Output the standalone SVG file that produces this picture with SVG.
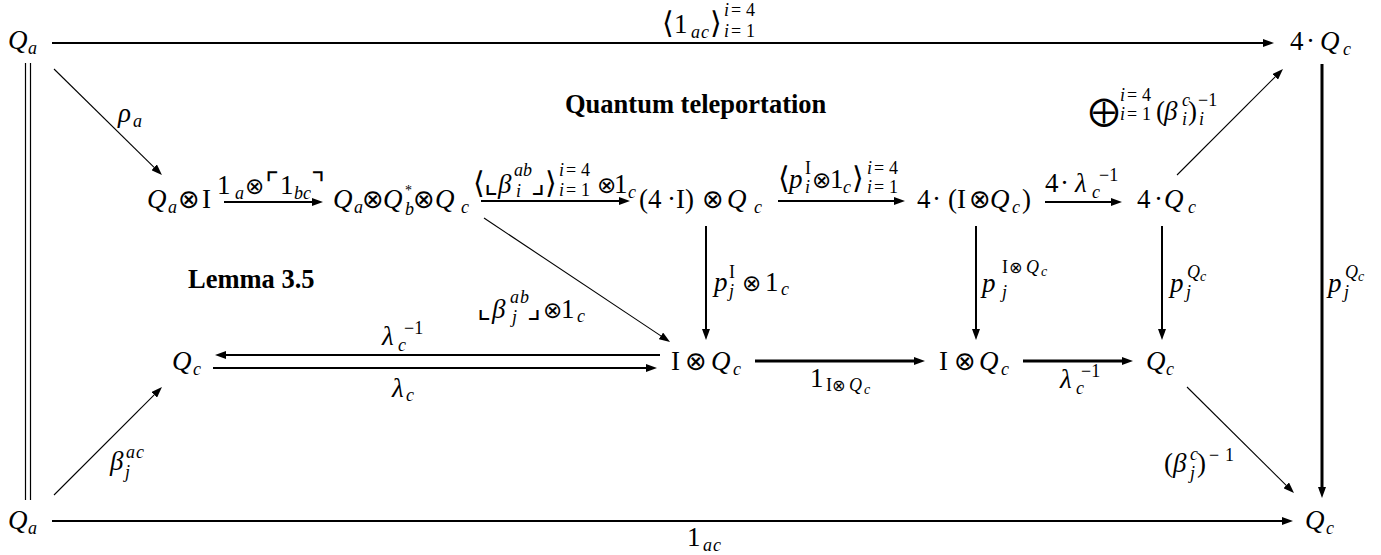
<svg xmlns="http://www.w3.org/2000/svg" width="1381" height="555" viewBox="0 0 1381 555">
<style>
text { font-family: "Liberation Serif", "DejaVu Serif", serif; font-size: 27px; fill: #000; }
.i { font-style: italic; }
.s { font-size: 18px; }
.ss { font-size: 14px; }
.o { font-family: "DejaVu Sans", sans-serif; font-size: 26px; }
.ol { font-family: "DejaVu Sans", sans-serif; font-size: 23px; }
.os { font-family: "DejaVu Sans", sans-serif; font-size: 16px; }
.d { font-family: "DejaVu Sans", sans-serif; font-size: 30px; }
.k { font-family: "DejaVu Sans", sans-serif; font-size: 30px; font-weight: 200; }
.bp { font-family: "DejaVu Sans", sans-serif; font-size: 30px; font-weight: 200; }
.t { font-weight: bold; font-size: 26.5px; }
.ln { fill: none; stroke: #000; }
.w1 { stroke-width: 1.1; marker-end: url(#ah); }
.w2 { stroke-width: 2; marker-end: url(#ah); }
.w3 { stroke-width: 3; marker-end: url(#ah); }
</style>
<defs>
<marker id="ah" markerWidth="11" markerHeight="8" refX="0" refY="4" orient="auto" markerUnits="userSpaceOnUse">
<path d="M0,0 L11,4 L0,8 Z" fill="#000"/>
</marker>
</defs>

<g id="connectors">
<path class="ln w2" d="M52,43 H1263"/>
<path class="ln w2" d="M52,521 H1282"/>
<path class="ln" stroke-width="1.2" d="M25.5,63 V500 M30.5,63 V500"/>
<path class="ln w3" d="M1322,64 V487"/>
<path class="ln w1" d="M54,69 L154.1,167.3"/>
<path class="ln w2" d="M224,202 H312"/>
<path class="ln w2" d="M481,201 H619"/>
<path class="ln w2" d="M778,201 H894"/>
<path class="ln w2" d="M1045,202 H1111"/>
<path class="ln w1" d="M1177,175 L1275.2,76.8"/>
<path class="ln w2" d="M706,226 V329"/>
<path class="ln w2" d="M976,226 V329"/>
<path class="ln w2" d="M1162,226 V329"/>
<path class="ln w1" d="M484,218 L660.9,335.9"/>
<path class="ln w2" d="M660,355 H226"/>
<path class="ln w2" d="M213,368 H646"/>
<path class="ln w3" d="M755,361 H914"/>
<path class="ln w3" d="M1023,361 H1122"/>
<path class="ln w1" d="M54,495 L154.2,394.8"/>
<path class="ln w1" d="M1187,387 L1286.2,485.3"/>

<g id="edge-labels">
<text y="33"><tspan x="662" class="d">⟨</tspan><tspan x="674">1</tspan><tspan x="691" y="38" class="i s">a</tspan><tspan x="701" y="38" class="i s">c</tspan><tspan x="710" y="33" class="d">⟩</tspan><tspan x="724" y="16" class="i s">i</tspan><tspan x="731" y="16" class="s">=</tspan><tspan x="746" y="16" class="s">4</tspan><tspan x="724" y="37" class="i s">i</tspan><tspan x="731" y="37" class="s">=</tspan><tspan x="746" y="37" class="s">1</tspan></text>

<text y="122"><tspan x="118" class="i">ρ</tspan><tspan x="133" y="127" class="i s">a</tspan></text>

<text y="194"><tspan x="217">1</tspan><tspan x="235" y="199" class="i s">a</tspan><tspan x="245" y="194" class="ol">⊗</tspan><tspan x="265" class="k">⌜</tspan><tspan x="280">1</tspan><tspan x="294" y="199" class="i s">b</tspan><tspan x="303" y="199" class="i s">c</tspan><tspan x="311" y="194" class="k">⌝</tspan></text>

<text y="193"><tspan x="473" class="d">⟨</tspan><tspan x="484" class="k">⌞</tspan><tspan x="498" class="i">β</tspan><tspan x="514" y="176" class="i s">a</tspan><tspan x="523" y="176" class="i s">b</tspan><tspan x="516" y="197" class="i s">i</tspan><tspan x="531" y="193" class="k">⌟</tspan><tspan x="545" class="d">⟩</tspan><tspan x="559" y="176" class="i s">i</tspan><tspan x="566" y="176" class="s">=</tspan><tspan x="581" y="176" class="s">4</tspan><tspan x="559" y="196" class="i s">i</tspan><tspan x="566" y="196" class="s">=</tspan><tspan x="581" y="196" class="s">1</tspan><tspan x="597" y="193" class="ol">⊗</tspan><tspan x="614">1</tspan><tspan x="628" y="198" class="i s">c</tspan></text>

<text y="188"><tspan x="778" class="d">⟨</tspan><tspan x="789" class="i">p</tspan><tspan x="805" y="174" class="s">I</tspan><tspan x="805" y="193" class="i s">i</tspan><tspan x="812" y="188" class="ol">⊗</tspan><tspan x="830">1</tspan><tspan x="843" y="193" class="i s">c</tspan><tspan x="852" y="188" class="d">⟩</tspan><tspan x="867" y="174" class="i s">i</tspan><tspan x="874" y="174" class="s">=</tspan><tspan x="889" y="174" class="s">4</tspan><tspan x="867" y="193" class="i s">i</tspan><tspan x="874" y="193" class="s">=</tspan><tspan x="889" y="193" class="s">1</tspan></text>

<text y="192"><tspan x="1045">4</tspan><tspan x="1060">·</tspan><tspan x="1075" class="i">λ</tspan><tspan x="1092" y="198" class="i s">c</tspan><tspan x="1099" y="181" class="s">−1</tspan></text>

<text y="120"><tspan x="1089" y="121" class="bp">⨁</tspan><tspan x="1120" y="101" class="i s">i</tspan><tspan x="1127" y="101" class="s">=</tspan><tspan x="1142" y="101" class="s">4</tspan><tspan x="1120" y="120" class="i s">i</tspan><tspan x="1127" y="120" class="s">=</tspan><tspan x="1142" y="120" class="s">1</tspan><tspan x="1156" y="120">(</tspan><tspan x="1164" class="i">β</tspan><tspan x="1182" y="106" class="i s">c</tspan><tspan x="1182" y="125" class="i s">i</tspan><tspan x="1188" y="120">)</tspan><tspan x="1198" y="106" class="s">−1</tspan><tspan x="1199" y="125" class="i s">i</tspan></text>

<text y="318"><tspan x="477" class="k">⌞</tspan><tspan x="492" class="i">β</tspan><tspan x="510" y="303" class="i s">a</tspan><tspan x="520" y="303" class="i s">b</tspan><tspan x="512" y="323" class="i s">j</tspan><tspan x="527" y="318" class="k">⌟</tspan><tspan x="543" class="ol">⊗</tspan><tspan x="561">1</tspan><tspan x="577" y="322" class="i s">c</tspan></text>

<text y="291"><tspan x="714" class="i">p</tspan><tspan x="729" y="278" class="s">I</tspan><tspan x="729" y="297" class="i s">j</tspan><tspan x="742" y="291" class="ol">⊗</tspan><tspan x="765">1</tspan><tspan x="781" y="295" class="i s">c</tspan></text>

<text y="292"><tspan x="982" class="i">p</tspan><tspan x="1002" y="273" class="s">I</tspan><tspan x="1009" y="273" class="os">⊗</tspan><tspan x="1026" y="273" class="i s">Q</tspan><tspan x="1041" y="276" class="i ss">c</tspan><tspan x="1002" y="298" class="i s">j</tspan></text>

<text y="292"><tspan x="1170" class="i">p</tspan><tspan x="1187" y="278" class="i s">Q</tspan><tspan x="1200" y="281" class="i ss">c</tspan><tspan x="1186" y="298" class="i s">j</tspan></text>

<text y="292"><tspan x="1328" class="i">p</tspan><tspan x="1345" y="278" class="i s">Q</tspan><tspan x="1358" y="281" class="i ss">c</tspan><tspan x="1344" y="298" class="i s">j</tspan></text>

<text y="345"><tspan x="382" class="i">λ</tspan><tspan x="398" y="351" class="i s">c</tspan><tspan x="404" y="334" class="s">−1</tspan></text>

<text y="397"><tspan x="392" class="i">λ</tspan><tspan x="406" y="401" class="i s">c</tspan></text>

<text y="387"><tspan x="810">1</tspan><tspan x="826" y="391" class="s">I</tspan><tspan x="832" y="391" class="os">⊗</tspan><tspan x="849" y="391" class="i s">Q</tspan><tspan x="864" y="394" class="i ss">c</tspan></text>

<text y="388"><tspan x="1060" class="i">λ</tspan><tspan x="1076" y="394" class="i s">c</tspan><tspan x="1081" y="377" class="s">−1</tspan></text>

<text y="470"><tspan x="110" class="i">β</tspan><tspan x="126" y="458" class="i s">a</tspan><tspan x="136" y="458" class="i s">c</tspan><tspan x="125" y="478" class="i s">j</tspan></text>

<text y="472"><tspan x="1164">(</tspan><tspan x="1173" class="i">β</tspan><tspan x="1190" y="460" class="i s">c</tspan><tspan x="1190" y="479" class="i s">j</tspan><tspan x="1197" y="472">)</tspan><tspan x="1209" y="461" class="s">−</tspan><tspan x="1225" y="461" class="s">1</tspan></text>

<text y="546"><tspan x="687">1</tspan><tspan x="703" y="551" class="i s">a</tspan><tspan x="713" y="551" class="i s">c</tspan></text>
</g>
</g>

<g id="n-qa-top"><text y="49"><tspan x="8" class="i">Q</tspan><tspan x="28" y="54" class="i s">a</tspan></text></g>
<g id="n-4qc-top"><text y="50"><tspan x="1290">4</tspan><tspan x="1306">·</tspan><tspan x="1320" class="i">Q</tspan><tspan x="1343" y="55" class="i s">c</tspan></text></g>
<g id="n-qa-i"><text y="208"><tspan x="147" class="i">Q</tspan><tspan x="168" y="213" class="i s">a</tspan><tspan x="178" y="208" class="o">⊗</tspan><tspan x="202">I</tspan></text></g>
<g id="n-qa-qb-qc"><text y="208"><tspan x="333" class="i">Q</tspan><tspan x="354" y="213" class="i s">a</tspan><tspan x="362" y="208" class="o">⊗</tspan><tspan x="383" class="i">Q</tspan><tspan x="405" y="195" class="ss">*</tspan><tspan x="405" y="215" class="i s">b</tspan><tspan x="413" y="208" class="o">⊗</tspan><tspan x="435" class="i">Q</tspan><tspan x="461" y="213" class="i s">c</tspan></text></g>
<g id="n-4i-qc"><text y="208"><tspan x="639">(4</tspan><tspan x="667">·</tspan><tspan x="676">I)</tspan><tspan x="702" class="o">⊗</tspan><tspan x="727" class="i">Q</tspan><tspan x="754" y="213" class="i s">c</tspan></text></g>
<g id="n-4-iqc"><text y="208"><tspan x="917">4</tspan><tspan x="932">·</tspan><tspan x="948">(I</tspan><tspan x="969" class="o">⊗</tspan><tspan x="990" class="i">Q</tspan><tspan x="1012" y="213" class="i s">c</tspan><tspan x="1022" y="208">)</tspan></text></g>
<g id="n-4qc-mid"><text y="208"><tspan x="1137">4</tspan><tspan x="1154">·</tspan><tspan x="1164" class="i">Q</tspan><tspan x="1188" y="213" class="i s">c</tspan></text></g>
<g id="n-qc-left"><text y="370"><tspan x="172" class="i">Q</tspan><tspan x="193" y="375" class="i s">c</tspan></text></g>
<g id="n-iqc-1"><text y="370"><tspan x="671">I</tspan><tspan x="685" class="o">⊗</tspan><tspan x="711" class="i">Q</tspan><tspan x="733" y="375" class="i s">c</tspan></text></g>
<g id="n-iqc-2"><text y="370"><tspan x="939">I</tspan><tspan x="954" class="o">⊗</tspan><tspan x="979" class="i">Q</tspan><tspan x="1001" y="375" class="i s">c</tspan></text></g>
<g id="n-qc-mid"><text y="370"><tspan x="1146" class="i">Q</tspan><tspan x="1166" y="375" class="i s">c</tspan></text></g>
<g id="n-qa-bot"><text y="529"><tspan x="8" class="i">Q</tspan><tspan x="28" y="534" class="i s">a</tspan></text></g>
<g id="n-qc-bot"><text y="529"><tspan x="1305" class="i">Q</tspan><tspan x="1326" y="534" class="i s">c</tspan></text></g>

<g id="title-quantum"><text class="t" x="565" y="113">Quantum teleportation</text></g>
<g id="title-lemma"><text class="t" x="188" y="288">Lemma 3.5</text></g>
</svg>
